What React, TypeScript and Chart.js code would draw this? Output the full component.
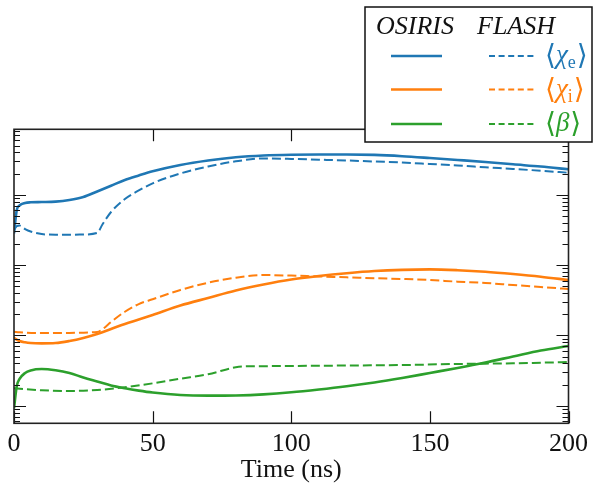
import React, { useEffect, useRef } from 'react';
import { Chart, registerables } from 'chart.js';

Chart.register(...registerables);

// ---- Data ----
const X_TICKS = [0, 50, 100, 150, 200];
const X_TITLE = 'Time (ns)';

const T_CHI_E_OSIRIS = [0, 1, 2, 4, 6, 10, 15, 20, 25, 30, 35, 40, 45, 50, 60, 70, 80, 90, 100, 110, 120, 130, 140, 150, 160, 170, 180, 190, 200];
const CHI_E_OSIRIS = [283, 607, 703, 762, 780, 787, 798, 841, 927, 1111, 1339, 1619, 1876, 2153, 2646, 3065, 3404, 3611, 3707, 3733, 3733, 3680, 3530, 3326, 3119, 2918, 2704, 2518, 2297];

const T_CHI_E_FLASH = [0, 1, 2, 4, 6, 10, 15, 20, 25, 30, 32, 35, 40, 45, 50, 60, 70, 80, 90, 100, 110, 120, 130, 140, 150, 160, 170, 180, 190, 200];
const CHI_E_FLASH = [315, 359, 365, 325, 300, 276, 270, 270, 272, 286, 383, 568, 869, 1148, 1452, 2005, 2518, 2985, 3273, 3228, 3145, 3065, 2966, 2871, 2735, 2601, 2455, 2322, 2193, 2051];

const T_CHI_I_OSIRIS = [0, 2, 4, 6, 10, 15, 20, 25, 30, 35, 40, 45, 50, 60, 70, 80, 90, 100, 110, 120, 130, 140, 150, 160, 170, 180, 190, 200];
const CHI_I_OSIRIS = [9.18, 8.32, 7.97, 7.79, 7.71, 7.79, 8.32, 9.18, 10.45, 12.32, 14.52, 16.8, 19.5, 26.6, 34, 43.4, 52.9, 62.3, 69.8, 76.5, 82.2, 85.5, 86.7, 84.5, 80.4, 74.6, 68.3, 61.3];

const T_CHI_I_FLASH = [0, 2, 10, 20, 30, 32, 35, 40, 45, 50, 60, 70, 80, 90, 100, 110, 120, 130, 140, 150, 160, 170, 180, 190, 200];
const CHI_I_FLASH = [11.28, 11.06, 10.8, 10.85, 11.2, 12.3, 15.5, 21.7, 27.9, 32.6, 44.2, 56.1, 66.1, 72.1, 70.8, 68.7, 66.9, 65, 63.4, 61.3, 58, 55.6, 52, 48.8, 45.6];

const T_BETA_OSIRIS = [0, 1, 2, 4, 6, 10, 15, 20, 25, 30, 35, 40, 45, 50, 60, 70, 80, 90, 100, 110, 120, 130, 140, 150, 160, 170, 180, 190, 200];
const BETA_OSIRIS = [0.918, 1.9, 2.4, 2.92, 3.17, 3.32, 3.19, 2.92, 2.52, 2.21, 1.94, 1.77, 1.64, 1.54, 1.42, 1.39, 1.4, 1.45, 1.55, 1.7, 1.89, 2.14, 2.48, 2.92, 3.44, 4.11, 5.01, 6.1, 7.06];

const T_BETA_FLASH = [0, 10, 20, 30, 40, 50, 60, 70, 80, 84, 90, 100, 120, 140, 160, 180, 200];
const BETA_FLASH = [1.77, 1.66, 1.62, 1.67, 1.83, 2.08, 2.42, 2.8, 3.52, 3.63, 3.65, 3.67, 3.73, 3.79, 3.92, 4.01, 4.18];

const Y_MIN = Math.pow(10, -0.25);
const Y_MAX = Math.pow(10, 3.93);
const MINOR_MULTIPLIERS = [1, 2, 3, 4, 5, 6, 7, 8, 9];

const BLUE = '#1f77b4';
const ORANGE = '#ff7f0e';
const GREEN = '#2ca02c';

const SERIF = '"Liberation Serif", "Times New Roman", "DejaVu Serif", serif';

const pts = (t: number[], v: number[]) => t.map((x, i) => ({ x, y: v[i] }));

const framePlugin = {
  id: 'frameAndLegend',
  afterDraw(chart: any) {
    const { ctx, chartArea: a } = chart;
    const xs = chart.scales.x;
    const ys = chart.scales.y;
    ctx.save();
    // inward ticks
    ctx.strokeStyle = '#111';
    ctx.lineWidth = 1.2;
    ctx.beginPath();
    for (let d = -1; d <= 4; d++) {
      for (const m of MINOR_MULTIPLIERS) {
        const v = m * Math.pow(10, d);
        if (v < Y_MIN || v > Y_MAX) continue;
        const py = Math.round(ys.getPixelForValue(v)) + 0.5;
        const len = m === 1 ? 12 : 6;
        ctx.moveTo(a.left, py);
        ctx.lineTo(a.left + len, py);
        ctx.moveTo(a.right, py);
        ctx.lineTo(a.right - len, py);
      }
    }
    for (const t of X_TICKS) {
      const px = Math.round(xs.getPixelForValue(t)) + 0.5;
      ctx.moveTo(px, a.bottom);
      ctx.lineTo(px, a.bottom - 12);
      ctx.moveTo(px, a.top);
      ctx.lineTo(px, a.top + 12);
    }
    ctx.stroke();
    // frame
    ctx.strokeStyle = '#222';
    ctx.lineWidth = 1.6;
    ctx.strokeRect(a.left, a.top, a.right - a.left, a.bottom - a.top);

    // legend box
    const bx = 365, by = 7, bw = 227, bh = 135;
    ctx.fillStyle = '#fff';
    ctx.fillRect(bx, by, bw, bh);
    ctx.strokeStyle = '#111';
    ctx.lineWidth = 1.5;
    ctx.strokeRect(bx, by, bw, bh);

    ctx.fillStyle = '#111';
    ctx.font = `italic 26px ${SERIF}`;
    ctx.textBaseline = 'alphabetic';
    ctx.textAlign = 'left';
    ctx.fillText('OSIRIS', 376, 34);
    ctx.fillText('FLASH', 477, 34);

    const rows = [
      { c: BLUE, sym: 'χ', sub: 'e', y: 56 },
      { c: ORANGE, sym: 'χ', sub: 'i', y: 89.5 },
      { c: GREEN, sym: 'β', sub: '', y: 124 },
    ];
    for (const r of rows) {
      ctx.strokeStyle = r.c;
      ctx.lineWidth = 2.6;
      ctx.setLineDash([]);
      ctx.beginPath();
      ctx.moveTo(391, r.y);
      ctx.lineTo(442, r.y);
      ctx.stroke();
      ctx.lineWidth = 2;
      ctx.setLineDash([6, 3.6]);
      ctx.beginPath();
      ctx.moveTo(489, r.y);
      ctx.lineTo(537, r.y);
      ctx.stroke();
      ctx.setLineDash([]);

      ctx.fillStyle = r.c;
      let x = 545;
      const base = r.y + 8;
      ctx.font = `28px ${SERIF}`;
      ctx.fillText('⟨', x, base);
      x += ctx.measureText('⟨').width;
      ctx.font = `italic 27px ${SERIF}`;
      ctx.fillText(r.sym, x, base - 1);
      x += ctx.measureText(r.sym).width;
      if (r.sub) {
        ctx.font = `18px ${SERIF}`;
        ctx.fillText(r.sub, x, base + 4);
        x += ctx.measureText(r.sub).width;
      }
      ctx.font = `28px ${SERIF}`;
      ctx.fillText('⟩', x + 1, base);
    }
    ctx.restore();
  },
};

export default function App() {
  const ref = useRef<HTMLCanvasElement | null>(null);
  useEffect(() => {
    if (!ref.current) return;
    const solid = (label: string, c: string, t: number[], v: number[]) => ({
      label, data: pts(t, v), borderColor: c, backgroundColor: c, borderWidth: 2.6,
      pointRadius: 0, cubicInterpolationMode: 'monotone' as const, fill: false,
    });
    const dashed = (label: string, c: string, t: number[], v: number[]) => ({
      ...solid(label, c, t, v), borderWidth: 2, borderDash: [9, 4],
    });
    const chart = new Chart(ref.current, {
      type: 'line',
      data: {
        datasets: [
          solid('OSIRIS χe', BLUE, T_CHI_E_OSIRIS, CHI_E_OSIRIS),
          dashed('FLASH χe', BLUE, T_CHI_E_FLASH, CHI_E_FLASH),
          solid('OSIRIS χi', ORANGE, T_CHI_I_OSIRIS, CHI_I_OSIRIS),
          dashed('FLASH χi', ORANGE, T_CHI_I_FLASH, CHI_I_FLASH),
          solid('OSIRIS β', GREEN, T_BETA_OSIRIS, BETA_OSIRIS),
          dashed('FLASH β', GREEN, T_BETA_FLASH, BETA_FLASH),
        ],
      },
      options: {
        responsive: false,
        animation: false,
        layout: { padding: { left: 14, right: 21.3, top: 129.3, bottom: 0 } },
        plugins: { legend: { display: false }, tooltip: { enabled: false } },
        scales: {
          x: {
            type: 'linear', min: 0, max: 200,
            grid: { display: false, drawTicks: false },
            border: { display: false },
            ticks: {
              stepSize: 50, padding: 5, color: '#111', maxRotation: 0,
              font: { family: SERIF, size: 26 },
              callback: (v: any) => (X_TICKS.includes(Number(v)) ? String(v) : ''),
            },
            title: { display: true, text: X_TITLE, color: '#111', font: { family: SERIF, size: 26 }, padding: { top: 0, bottom: 5 } },
            afterFit: (s: any) => { s.height = 67.7; },
          },
          y: { type: 'logarithmic', min: Y_MIN, max: Y_MAX, display: false },
        },
      },
      plugins: [framePlugin],
    } as any);
    return () => chart.destroy();
  }, []);
  return (
    <div style={{ position: 'absolute', left: 0, top: 0, width: 593, height: 491, background: '#fff' }}>
      <canvas ref={ref} width={593} height={491} style={{ display: 'block' }} />
    </div>
  );
}
